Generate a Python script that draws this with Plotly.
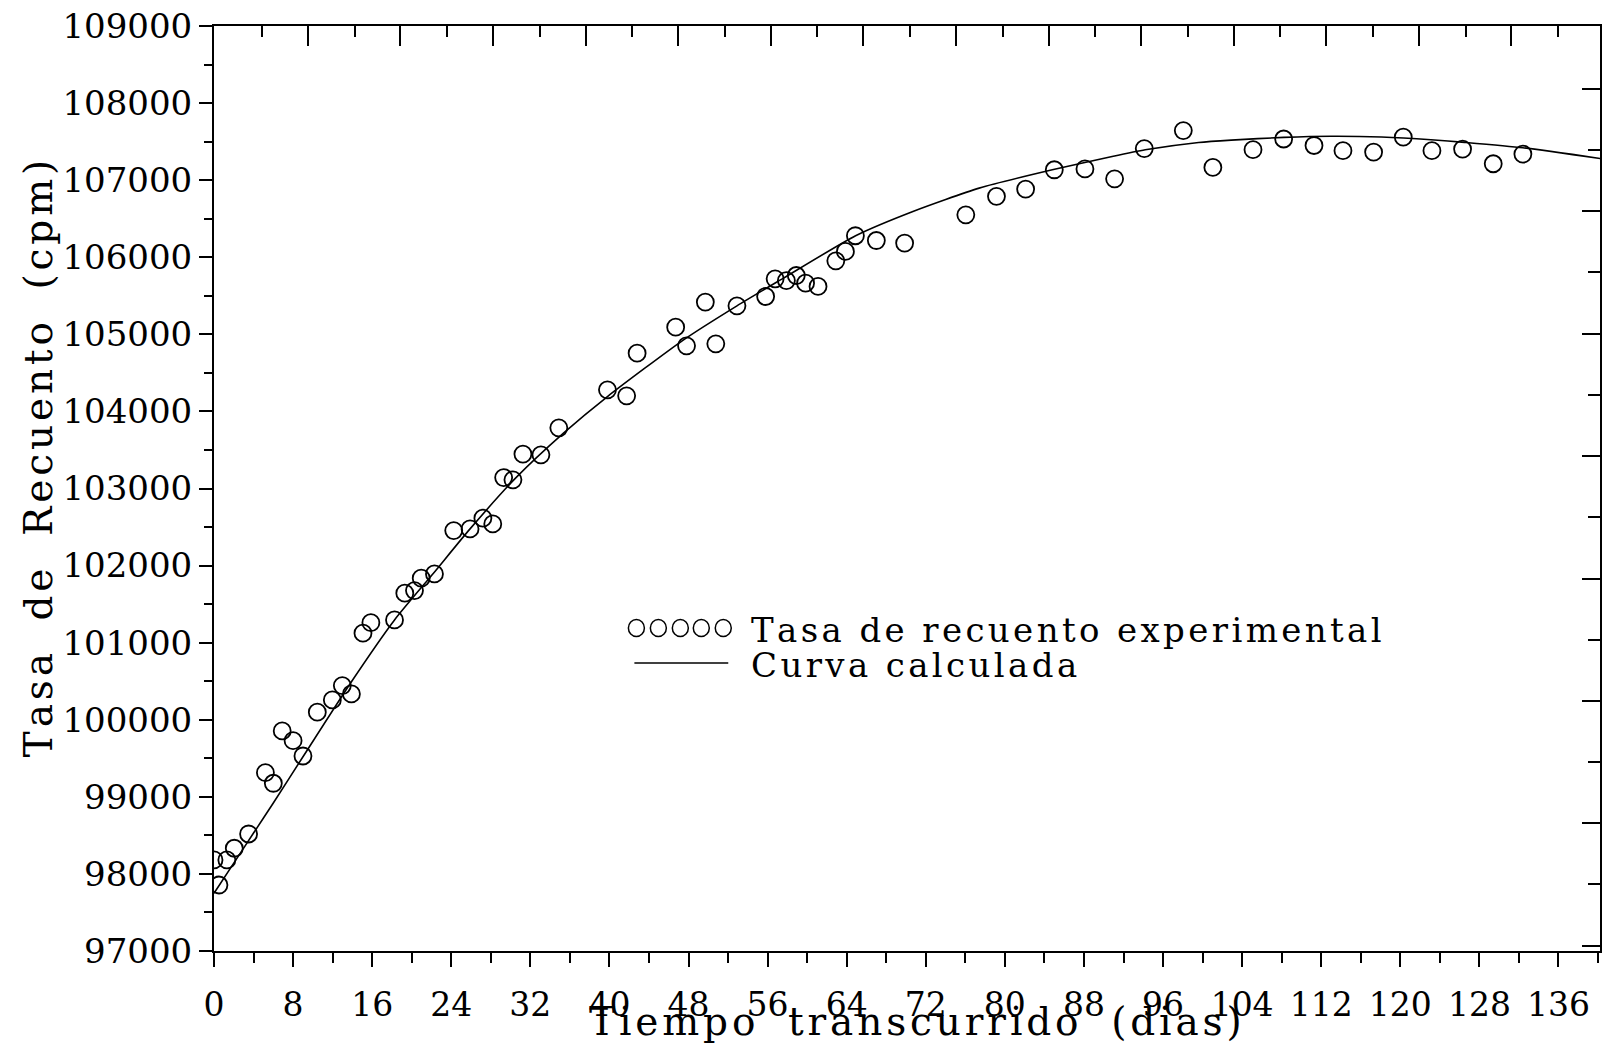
import numpy as np
import plotly.graph_objects as go

# ---- data ----
dias_exp = [0.0, 0.5, 1.3, 2.05, 3.5, 5.2, 6.0, 6.9, 8.0, 9.0, 10.45, 11.97, 12.98, 13.9,
            15.07, 15.87, 18.26, 19.3, 20.28, 20.96, 22.3, 24.25, 25.9, 27.2, 28.2, 29.3,
            30.24, 31.25, 33.07, 34.88, 39.8, 41.74, 42.8, 46.7, 47.8, 49.7, 50.76, 52.9,
            55.8, 56.76, 57.9, 58.9, 59.84, 61.1, 62.9, 63.87, 64.88, 67.0, 69.86, 76.05,
            79.15, 82.1, 85.0, 88.1, 91.1, 94.1, 98.05, 101.04, 105.1, 108.2, 111.27,
            114.2, 117.3, 120.3, 123.2, 126.3, 129.4, 132.4]
cpm_exp = [98181, 97856, 98181, 98333, 98518, 99314, 99176, 99855, 99729, 99530, 100098,
           100257, 100443, 100335, 101123, 101260, 101295, 101642, 101676, 101837, 101892,
           102454, 102476, 102615, 102541, 103142, 103112, 103446, 103437, 103787, 104280,
           104202, 104756, 105093, 104851, 105418, 104877, 105370, 105491, 105720, 105698,
           105763, 105664, 105621, 105954, 106075, 106279, 106217, 106184, 106551, 106790,
           106884, 107135, 107146, 107018, 107410, 107643, 107165, 107395, 107534, 107450,
           107382, 107364, 107559, 107382, 107403, 107213, 107339]

dias_calc = [0, 2, 4, 6, 9, 13.8, 18.26, 22.2, 25.9, 30.5, 35.35, 39.8, 47.5, 52.9, 57.6,
             64.9, 70.7, 77.4, 84.8, 90.85, 94.2, 99.6, 102.9, 108.2, 113, 118.1, 123.1,
             126.5, 132.4, 140.4]
cpm_calc = [97750, 98140, 98530, 98920, 99520, 100474, 101295, 101901, 102476, 103134,
            103718, 104193, 104929, 105370, 105729, 106279, 106594, 106897, 107135, 107307,
            107394, 107489, 107520, 107555, 107570, 107560, 107525, 107490, 107420, 107278]

x_ticks = list(range(0, 137, 8))
y_ticks = list(range(97000, 109001, 1000))

x_title = "Tiempo transcurrido (dias)"
y_title = "Tasa de Recuento (cpm)"
leg_exp = "Tasa de recuento experimental"
leg_calc = "Curva calculada"

# ---- layout geometry (pixels) ----
W, H = 1605, 1045
L, R, T, B = 214, 1602, 26, 951
FONT = "DejaVu Serif"


def px_x(p):
    return (p - L) / (R - L)


def px_y(p):
    return (B - p) / (B - T)


def spaced(s, gap=2):
    # emulate the wide letter spacing of the original plotter lettering
    words = ["\u200a".join(w) for w in s.split(" ")]
    return ("\u200a" + "\u00a0" * gap + "\u200a").join(words)


fig = go.Figure()

fig.add_trace(go.Scatter(
    x=dias_calc, y=cpm_calc, mode="lines",
    line=dict(color="black", width=1.6, shape="spline", smoothing=0.6),
    showlegend=False, hoverinfo="skip"))

fig.add_trace(go.Scatter(
    x=dias_exp, y=cpm_exp, mode="markers",
    marker=dict(symbol="circle-open", size=17, color="black", line=dict(width=1.8)),
    showlegend=False))

# empty trace to activate decorative top/right axes
fig.add_trace(go.Scatter(x=[], y=[], xaxis="x2", yaxis="y2", showlegend=False))

top_long = list(np.arange(308, R, 92.72))
top_short = list(np.arange(262, R, 92.72))
right_long = list(np.arange(89, B, 122.4))
right_short = list(np.arange(150, B, 122.4))

fig.update_layout(
    width=W, height=H,
    margin=dict(l=L, r=W - R, t=T, b=H - B, pad=0),
    paper_bgcolor="white", plot_bgcolor="white",
    font=dict(family=FONT, color="black", size=34),
    xaxis=dict(
        range=[0, 140.2], tickvals=x_ticks, ticktext=[str(v) for v in x_ticks],
        ticks="outside", ticklen=14, tickwidth=2, tickcolor="black",
        minor=dict(dtick=4, tick0=0, ticks="outside", ticklen=10, tickwidth=2, tickcolor="black"),
        showline=True, linecolor="black", linewidth=2, mirror=True,
        showgrid=False, zeroline=False, ticklabelstandoff=9,
        tickfont=dict(family=FONT, size=33, color="black"),
    ),
    yaxis=dict(
        range=[97000, 109000], tickvals=y_ticks, ticktext=[str(v) for v in y_ticks],
        ticks="outside", ticklen=13, tickwidth=2, tickcolor="black",
        minor=dict(dtick=500, tick0=97000, ticks="outside", ticklen=8, tickwidth=2, tickcolor="black"),
        showline=True, linecolor="black", linewidth=2, mirror=True,
        showgrid=False, zeroline=False, ticklabelstandoff=0,
        tickfont=dict(family=FONT, size=34, color="black"),
    ),
    xaxis2=dict(
        overlaying="x", side="top", anchor="y", range=[L, R],
        tickmode="array", tickvals=top_long, showticklabels=False,
        ticks="inside", ticklen=20, tickwidth=2, tickcolor="black",
        minor=dict(tickmode="array", tickvals=top_short, ticks="inside", ticklen=11,
                   tickwidth=2, tickcolor="black"),
        showgrid=False, zeroline=False, showline=False,
    ),
    yaxis2=dict(
        overlaying="y", side="right", anchor="x", range=[B, T],
        tickmode="array", tickvals=right_long, showticklabels=False,
        ticks="inside", ticklen=18, tickwidth=2, tickcolor="black",
        minor=dict(tickmode="array", tickvals=right_short, ticks="inside", ticklen=12,
                   tickwidth=2, tickcolor="black"),
        showgrid=False, zeroline=False, showline=False,
    ),
)

annotations = [
    dict(text=spaced(x_title), xref="paper", yref="paper",
         x=px_x(917), y=px_y(1045), xanchor="center", yanchor="bottom", showarrow=False,
         borderpad=0, font=dict(family=FONT, size=39, color="black")),
    dict(text=spaced(y_title), xref="paper", yref="paper",
         x=px_x(38), y=px_y(458), xanchor="center", yanchor="middle", showarrow=False,
         textangle=-90, font=dict(family=FONT, size=39, color="black")),
    dict(text=spaced(leg_exp, gap=1), xref="paper", yref="paper",
         x=px_x(750), y=px_y(630), xanchor="left", yanchor="middle", showarrow=False,
         font=dict(family=FONT, size=34, color="black")),
    dict(text=spaced(leg_calc, gap=1), xref="paper", yref="paper",
         x=px_x(750), y=px_y(665), xanchor="left", yanchor="middle", showarrow=False,
         font=dict(family=FONT, size=34, color="black")),
]
fig.update_layout(annotations=annotations)

shapes = []
for cx in [637, 659, 681, 702, 724]:
    shapes.append(dict(type="circle", xref="paper", yref="paper",
                       xsizemode="pixel", ysizemode="pixel",
                       xanchor=px_x(cx), yanchor=px_y(628),
                       x0=-8, x1=8, y0=-8.5, y1=8.5,
                       line=dict(color="black", width=1.5)))
shapes.append(dict(type="line", xref="paper", yref="paper",
                   x0=px_x(635), x1=px_x(729), y0=px_y(663), y1=px_y(663),
                   line=dict(color="black", width=1.6)))
fig.update_layout(shapes=shapes)

fig.write_html("out.html")
